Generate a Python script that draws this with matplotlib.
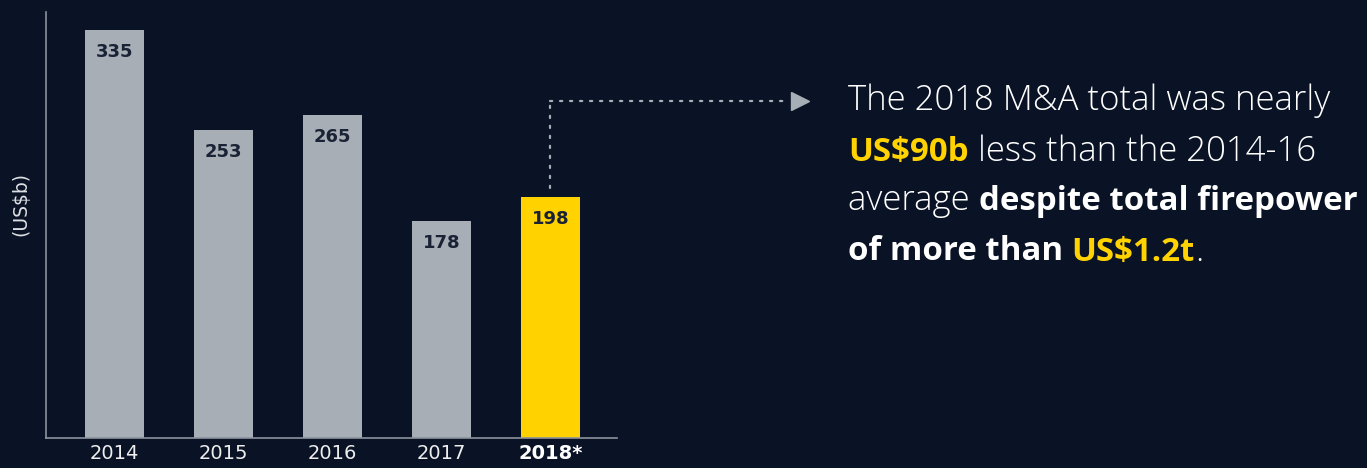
import matplotlib.pyplot as plt

# Data
years = ["2014", "2015", "2016", "2017", "2018*"]
values = [335, 253, 265, 178, 198]
bar_colors = ["#a8aeb5"] * 4 + ["#ffd200"]

# callout text, one list of (text, bold, color) pieces per line
WHITE = "#ffffff"
YELLOW = "#ffd200"
callout = [
    [("The 2018 M&A total was nearly", False, WHITE)],
    [("US$90b", True, YELLOW), (" less than the 2014-16", False, WHITE)],
    [("average ", False, WHITE), ("despite total firepower", True, WHITE)],
    [("of more than ", True, WHITE), ("US$1.2t", True, YELLOW), (".", False, WHITE)],
]

BG = "#0a1325"
plt.rcParams["font.family"] = ["DejaVu Sans"]

fig = plt.figure(figsize=(13.67, 4.68), dpi=100, facecolor=BG)
ax = fig.add_axes([0.0337, 0.0641, 0.4176, 0.9103])
ax.set_facecolor(BG)

x = range(len(years))
bars = ax.bar(x, values, width=0.54, color=bar_colors)
for xi, v in zip(x, values):
    ax.text(xi, v - 18, str(v), ha="center", va="center", fontsize=13,
            fontweight="bold", color="#1a2236")

ax.set_xlim(-0.628, 4.61)
ax.set_ylim(0, 350)
ax.set_xticks(list(x))
ax.set_xticklabels(years, fontsize=14, color="#eeeeee")
ax.get_xticklabels()[-1].set_fontweight("bold")
ax.get_xticklabels()[-1].set_color("#ffffff")
ax.tick_params(axis="x", length=0, pad=4)
ax.set_yticks([])
for s in ["top", "right"]:
    ax.spines[s].set_visible(False)
for s in ["left", "bottom"]:
    ax.spines[s].set_color("#8c939c")
    ax.spines[s].set_linewidth(1.2)
ax.set_ylabel("(US$b)", fontsize=13.5, color="#dde0e4")
ax.yaxis.set_label_coords(-0.028, 0.55)

# dotted connector from the 2018 bar to the callout
line_y = 277
end_x = 6.2
ax.plot([4, 4], [values[4] + 7, line_y], ls=(0, (1, 3.5)), lw=1.6,
        color="#a8aeb5", clip_on=False, dash_capstyle="round")
ax.plot([4, end_x], [line_y, line_y], ls=(0, (1, 3.5)), lw=1.6,
        color="#a8aeb5", clip_on=False, dash_capstyle="round")
ax.plot([end_x + 0.09], [line_y], marker=">", markersize=13,
        color="#a8aeb5", clip_on=False)

# callout text built from pieces
fig.canvas.draw()
renderer = fig.canvas.get_renderer()
fig_w, fig_h = fig.get_size_inches() * fig.dpi
x0 = 848
line_tops = [101, 152, 201, 252]
for pieces, ly in zip(callout, line_tops):
    cx = x0
    for txt, bold, col in pieces:
        t = fig.text(cx / fig_w, 1 - ly / fig_h, txt,
                     fontsize=23.8 if bold else 25,
                     family="Open Sans", fontweight="bold" if bold else "light",
                     color=col, va="center", ha="left")
        bb = t.get_window_extent(renderer)
        cx += bb.width

fig.savefig("out.png", dpi=100, facecolor=BG)
